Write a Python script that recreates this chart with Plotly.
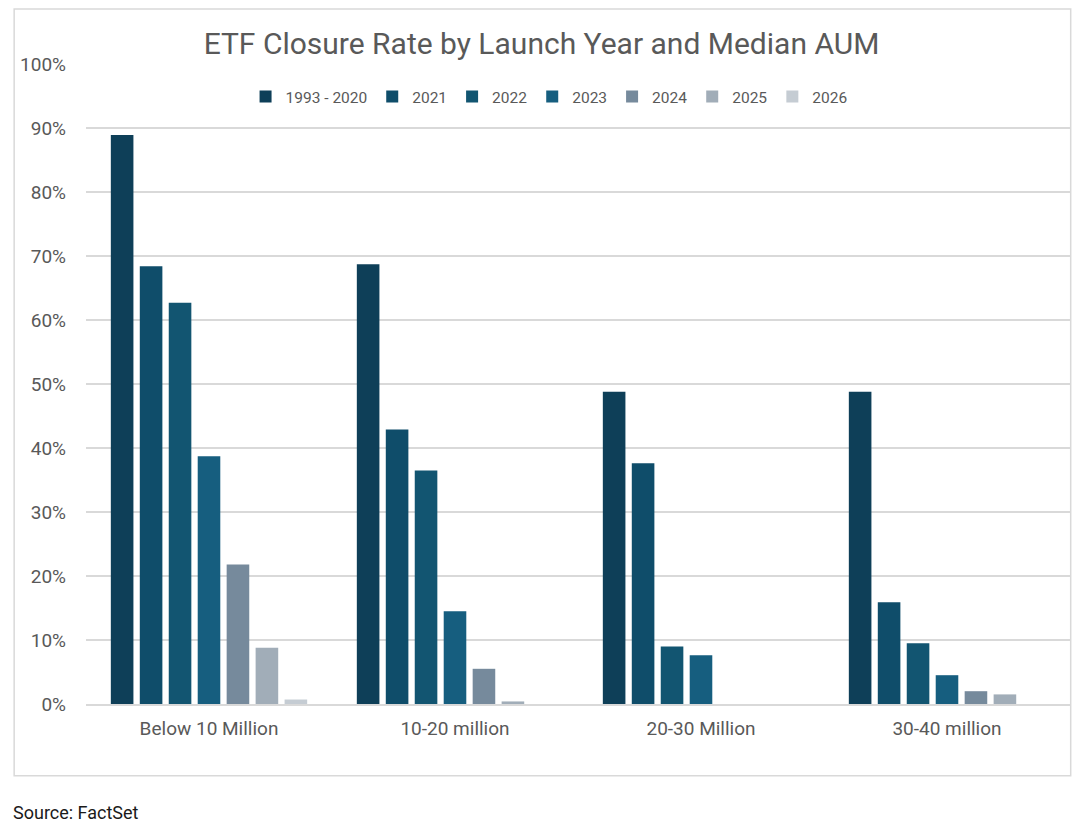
import plotly.graph_objects as go

# data
categories = ["Below 10 Million", "10-20 million", "20-30 Million", "30-40 million"]
series_names = ["1993 - 2020", "2021", "2022", "2023", "2024", "2025", "2026"]

rate_1993_2020 = [0.889, 0.687, 0.488, 0.488]
rate_2021 = [0.684, 0.429, 0.376, 0.159]
rate_2022 = [0.627, 0.365, 0.090, 0.095]
rate_2023 = [0.387, 0.145, 0.076, 0.045]
rate_2024 = [0.218, 0.055, None, 0.020]
rate_2025 = [0.088, 0.004, None, 0.015]
rate_2026 = [0.007, None, None, None]

series_values = [rate_1993_2020, rate_2021, rate_2022, rate_2023,
                 rate_2024, rate_2025, rate_2026]
colors = ["#0e3f58", "#0f4d6a", "#125571", "#165e7f",
          "#768a9c", "#a1adb8", "#c5ccd3"]

y_ticks = [i / 10 for i in range(11)]

FONT = "Roboto"
GREY_TEXT = "#595959"
GRID = "#d9d9d9"

# the page puts the figure 8px in from the top-left, so size it to fit
W, H = 1075, 818
L, R, T, B = 76, 13, 56, 122
PW, PH = W - L - R, H - T - B


def px_x(x):
    """figure pixel x -> paper x"""
    return (x - L) / PW


def px_y(y):
    """figure pixel y -> paper y"""
    return (H - B - y) / PH


fig = go.Figure()
for name, vals, col in zip(series_names, series_values, colors):
    fig.add_trace(go.Bar(x=categories, y=vals, name=name,
                         marker=dict(color=col, line=dict(width=0))))

fig.update_layout(
    width=W, height=H,
    paper_bgcolor="white", plot_bgcolor="white",
    margin=dict(l=L, r=R, t=T, b=B),
    barmode="group", bargap=0.176, bargroupgap=0.22,
    font=dict(family=FONT, color=GREY_TEXT, size=16),
    title=dict(text="ETF Closure Rate by Launch Year and Median AUM",
               x=533.5 / W, xref="container", xanchor="center",
               y=1 - 35 / H, yref="container", yanchor="middle",
               font=dict(family=FONT, size=30, color=GREY_TEXT)),
    legend=dict(orientation="h", x=px_x(540), xanchor="center",
                y=px_y(89), yanchor="middle",
                font=dict(size=15.5, color=GREY_TEXT),
                itemwidth=30, traceorder="normal", bgcolor="rgba(0,0,0,0)"),
    showlegend=True,
)

fig.update_yaxes(range=[0, 1], tickvals=y_ticks, tickformat=".0%",
                 showgrid=True, gridcolor=GRID, gridwidth=1.5,
                 zeroline=False, showline=False, ticks="",
                 ticklabelstandoff=19, tickfont=dict(size=19, color=GREY_TEXT))
fig.update_xaxes(showline=True, linecolor=GRID, linewidth=1.5, ticks="",
                 ticklabelstandoff=6, tickfont=dict(size=19, color=GREY_TEXT))

# outer chart frame
fig.add_shape(type="rect", xref="paper", yref="paper",
              x0=px_x(4), x1=px_x(1062.7), y0=px_y(767.7), y1=px_y(1),
              line=dict(color=GRID, width=1.5), layer="below")

fig.add_annotation(text="Source: FactSet", xref="paper", yref="paper",
                   x=px_x(1), xanchor="left", y=px_y(804), yanchor="middle",
                   showarrow=False, font=dict(size=18, color="#1a1a1a"))

fig.write_html("out.html")
